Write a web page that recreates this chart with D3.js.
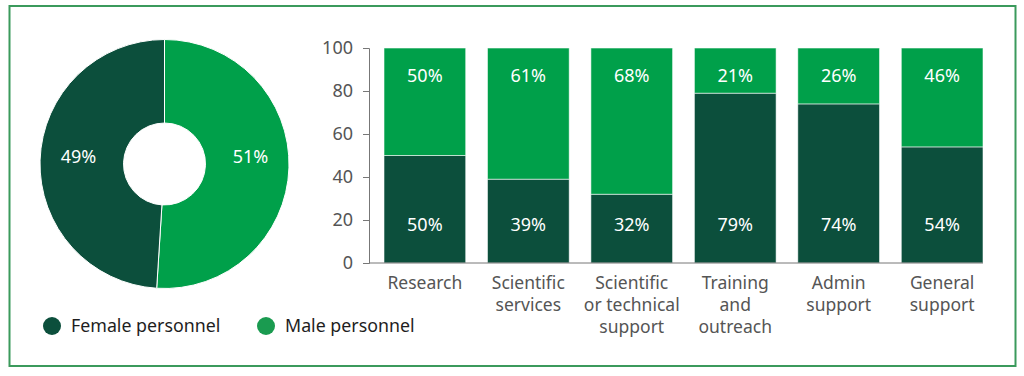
<!DOCTYPE html>
<html>
<head>
<meta charset="utf-8">
<script src="https://cdn.jsdelivr.net/npm/d3@7"></script>
<style>
  body { margin: 0; background: #fff; }
  svg { display: block; font-family: "Noto Sans", "Open Sans", sans-serif; }
</style>
</head>
<body>
<svg width="1024" height="376"></svg>
<script>
const categories = [
    ['Research'],
    ['Scientific', 'services'],
    ['Scientific', 'or technical', 'support'],
    ['Training', 'and', 'outreach'],
    ['Admin', 'support'],
    ['General', 'support']
];
const female = [50, 39, 32, 79, 74, 54];
const male = [50, 61, 68, 21, 26, 46];
const yTicks = [0, 20, 40, 60, 80, 100];

const totalLabels = ['Male personnel', 'Female personnel'];
const totalValues = [51, 49];

const darkGreen = '#0c4f3c';
const lightGreen = '#00a04a';

const svg = d3.select('svg');

// frame
svg.append('rect')
    .attr('x', 9.5).attr('y', 6)
    .attr('width', 1006).attr('height', 360)
    .attr('fill', 'none')
    .attr('stroke', '#3b9a5c')
    .attr('stroke-width', 2);

// donut
const cx = 164.5, cy = 164;
const pie = d3.pie().sort(null).value(d => d)(totalValues);
const arc = d3.arc().innerRadius(41).outerRadius(124.5);
const labelArc = d3.arc().innerRadius(86).outerRadius(86);

const donut = svg.append('g').attr('transform', `translate(${cx},${cy})`);
donut.selectAll('path')
    .data(pie)
    .enter().append('path')
    .attr('d', arc)
    .attr('fill', (d, i) => i === 0 ? lightGreen : darkGreen)
    .attr('stroke', '#fff')
    .attr('stroke-width', 1);

donut.selectAll('text')
    .data(pie)
    .enter().append('text')
    .attr('x', d => labelArc.centroid(d)[0])
    .attr('y', -7)
    .attr('text-anchor', 'middle')
    .attr('dy', '0.35em')
    .attr('fill', '#fff')
    .attr('font-size', 18)
    .text(d => d.data + '%');

// legend
const legendItems = [
    { label: totalLabels[1], color: darkGreen, x: 52 },
    { label: totalLabels[0], color: '#1a9b50', x: 266 }
];
const legend = svg.append('g').selectAll('g')
    .data(legendItems)
    .enter().append('g')
    .attr('transform', d => `translate(${d.x},326)`);
legend.append('circle').attr('r', 9).attr('fill', d => d.color);
legend.append('text')
    .attr('x', 19).attr('dy', '0.35em')
    .attr('font-size', 17.8)
    .attr('fill', '#1e1e1e')
    .text(d => d.label);

// bar chart
const x = d3.scaleBand()
    .domain(d3.range(categories.length))
    .range([384, 983])
    .paddingInner(0.21)
    .paddingOuter(0);
const y = d3.scaleLinear().domain([0, 100]).range([263, 48]);

const bars = svg.append('g');
const rows = female.map((f, i) => ({ i, f, m: male[i] }));

bars.selectAll('.female')
    .data(rows)
    .enter().append('rect')
    .attr('x', d => x(d.i))
    .attr('width', x.bandwidth())
    .attr('y', d => y(d.f))
    .attr('height', d => y(0) - y(d.f))
    .attr('fill', darkGreen)
    .attr('stroke', '#fff')
    .attr('stroke-opacity', 0.7)
    .attr('stroke-width', 0.8);

bars.selectAll('.male')
    .data(rows)
    .enter().append('rect')
    .attr('x', d => x(d.i))
    .attr('width', x.bandwidth())
    .attr('y', d => y(d.f + d.m))
    .attr('height', d => y(d.f) - y(d.f + d.m))
    .attr('fill', lightGreen)
    .attr('stroke', '#fff')
    .attr('stroke-opacity', 0.7)
    .attr('stroke-width', 0.8);

bars.selectAll('.mlabel')
    .data(rows)
    .enter().append('text')
    .attr('x', d => x(d.i) + x.bandwidth() / 2)
    .attr('y', y(100) + 27.5)
    .attr('dy', '0.35em')
    .attr('text-anchor', 'middle')
    .attr('fill', '#fff')
    .attr('font-size', 18)
    .text(d => d.m + '%');

bars.selectAll('.flabel')
    .data(rows)
    .enter().append('text')
    .attr('x', d => x(d.i) + x.bandwidth() / 2)
    .attr('y', y(0) - 38.5)
    .attr('dy', '0.35em')
    .attr('text-anchor', 'middle')
    .attr('fill', '#fff')
    .attr('font-size', 18)
    .text(d => d.f + '%');

// y axis
const yAxis = svg.append('g')
    .attr('transform', 'translate(369,0)')
    .call(d3.axisLeft(y).tickValues(yTicks).tickSize(6).tickPadding(10));
yAxis.selectAll('line, path').attr('stroke', '#777');
yAxis.selectAll('text').attr('font-size', 18).attr('fill', '#555')
    .attr('font-family', '"Noto Sans", sans-serif');

// baseline
svg.append('line')
    .attr('x1', 369).attr('x2', 983)
    .attr('y1', y(0)).attr('y2', y(0))
    .attr('stroke', '#777');

// category labels
const catLabels = svg.append('g').selectAll('text')
    .data(categories)
    .enter().append('text')
    .attr('x', (d, i) => x(i) + x.bandwidth() / 2)
    .attr('y', 283)
    .attr('text-anchor', 'middle')
    .attr('fill', '#555')
    .attr('font-size', 17.5);
catLabels.selectAll('tspan')
    .data(d => d)
    .enter().append('tspan')
    .attr('x', function () { return this.parentNode.getAttribute('x'); })
    .attr('dy', (d, i) => i === 0 ? '0.35em' : 22)
    .text(d => d);
</script>
</body>
</html>
